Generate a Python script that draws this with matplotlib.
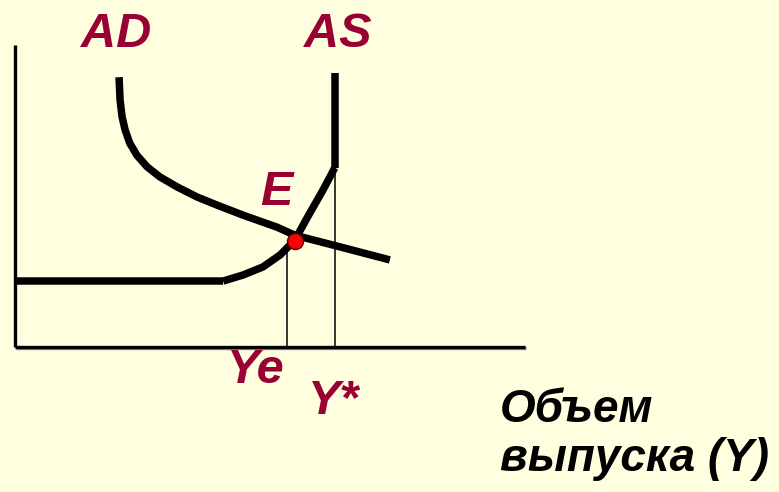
import matplotlib
matplotlib.use("Agg")
import matplotlib.pyplot as plt
from matplotlib.transforms import ScaledTranslation

# Data (abstract units: x 0..10, y 0..6)
ad_x = [2.04, 2.06, 2.10, 2.16, 2.25, 2.39, 2.59, 2.84, 3.18, 3.57, 3.96, 4.47, 5.14, 5.49, 6.37, 7.35]
ad_y = [5.36, 4.91, 4.57, 4.31, 4.05, 3.81, 3.58, 3.38, 3.18, 2.98, 2.82, 2.62, 2.38, 2.22, 1.99, 1.73]

as_flat_x = [0.0, 4.08]
as_flat_y = [1.31, 1.31]
as_curve_x = [4.08, 4.47, 4.86, 5.20, 5.49, 5.78, 6.04, 6.27]
as_curve_y = [1.31, 1.43, 1.59, 1.83, 2.13, 2.66, 3.12, 3.56]
as_vert_x = [6.27, 6.27]
as_vert_y = [3.56, 5.44]

e_x, e_y = 5.49, 2.11
ye_x, ystar_x = 5.33, 6.27
ye_top, ystar_top = 1.95, 3.56

y_axis_top = 6.0
x_axis_right = 10.0

label_text = ["AD", "AS", "E", "Ye", "Y*"]
label_x = [1.98, 6.33, 5.12, 4.73, 6.25]
label_y = [5.96, 5.96, 2.82, -0.72, -1.33]
xlabel_lines = ["Объем", "выпуска (Y)"]

bg = "#FFFFE0"
txt = "#990033"

fig = plt.figure(figsize=(7.79, 4.92), dpi=100, facecolor=bg)
ax = fig.add_axes([15/779, (492-347)/492, 510/779, 302/492])
ax.set_facecolor(bg)
ax.set_xlim(0, x_axis_right)
ax.set_ylim(0, y_axis_top)
for s in ax.spines.values():
    s.set_visible(False)
ax.set_xticks([]); ax.set_yticks([])

# axis lines (with a faint shadow on the horizontal one)
ax.plot([0, x_axis_right], [0, 0], color="#8a8a8a", lw=2.4, solid_capstyle="butt", clip_on=False,
        transform=ax.transData + ScaledTranslation(1/100, -1.2/100, fig.dpi_scale_trans))
ax.plot([0, 0], [0, y_axis_top], color="black", lw=2.4, solid_capstyle="butt", clip_on=False)
ax.plot([0, x_axis_right], [0, 0], color="black", lw=2.4, solid_capstyle="butt", clip_on=False)

# guide lines
ax.plot([ye_x, ye_x], [0, ye_top], color="black", lw=1.1)
ax.plot([ystar_x, ystar_x], [0, ystar_top], color="black", lw=1.1)

# curves
kw = dict(color="black", lw=5.4, solid_capstyle="butt", solid_joinstyle="round", clip_on=False)
ax.plot(ad_x, ad_y, **kw)
ax.plot(as_flat_x, as_flat_y, **kw)
ax.plot(as_curve_x, as_curve_y, **kw)
ax.plot(as_vert_x, as_vert_y, **kw)

# equilibrium
ax.plot([e_x], [e_y], "o", color="red", markersize=11.5, markeredgecolor="#550000",
        markeredgewidth=1, zorder=5)

fp = dict(family=["Liberation Sans", "DejaVu Sans"], weight="bold", style="italic")
for t, x, y in zip(label_text, label_x, label_y):
    ax.text(x, y, t, color=txt, fontsize=35, ha="center", va="baseline", clip_on=False, **fp)

fig.text(500/779, 1 - 422/492, xlabel_lines[0], color="black", fontsize=33,
         ha="left", va="baseline", **fp)
fig.text(500/779, 1 - 471/492, xlabel_lines[1], color="black", fontsize=33,
         ha="left", va="baseline", **fp)

fig.savefig("out.png", dpi=100, facecolor=bg)
